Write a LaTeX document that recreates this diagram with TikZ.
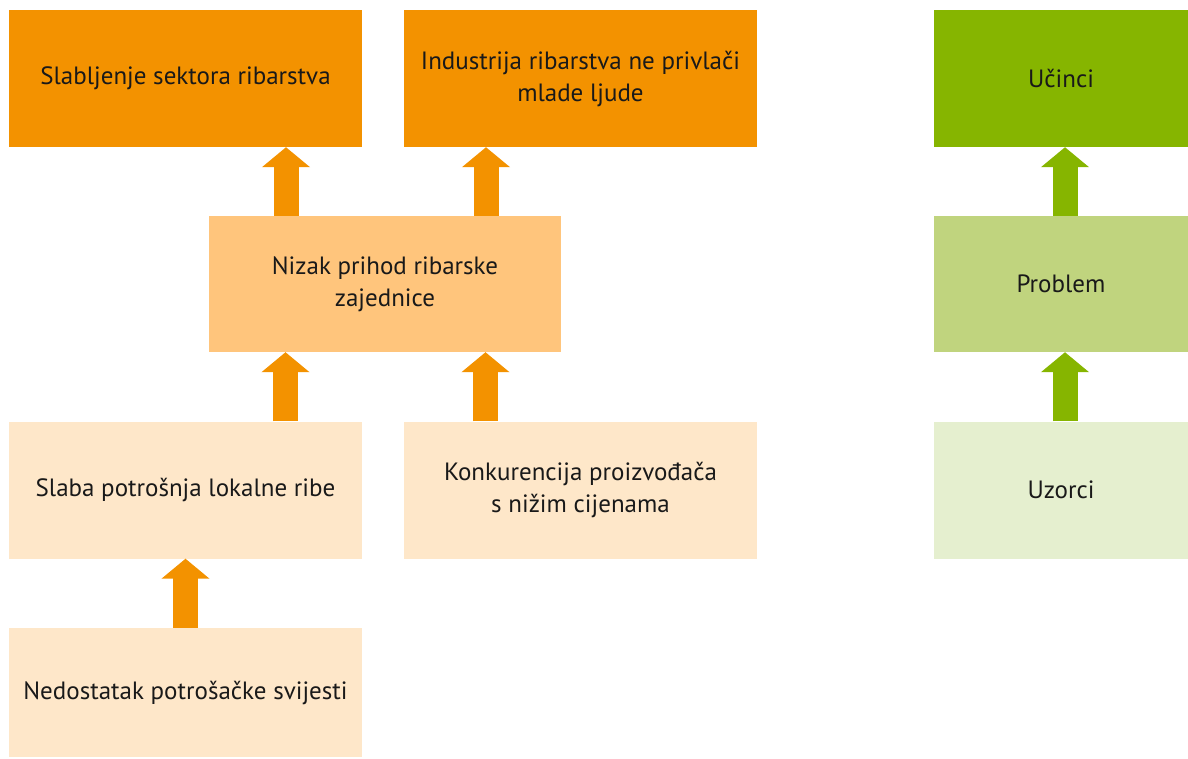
\documentclass[tikz,border=0pt]{standalone}
\usepackage{fontspec}
\setmainfont{PT Sans}
\usepackage{tikz}
\usetikzlibrary{arrows.meta}

\definecolor{dorange}{HTML}{F39200}
\definecolor{lorange}{HTML}{FFC57C}
\definecolor{corange}{HTML}{FEE7C9}
\definecolor{dgreen}{HTML}{86B500}
\definecolor{mgreen}{HTML}{C0D47E}
\definecolor{lgreen}{HTML}{E5EFCF}

\tikzset{
  box/.style={minimum width=353pt, minimum height=137pt, inner sep=0pt,
    align=center, text=black!90, font=\fontsize{25}{32}\selectfont},
  legbox/.style={box, minimum width=254pt},
  uparrow/.style={line width=25pt, -{Triangle[width=47pt, length=20pt]}},
}

\begin{document}
\begin{tikzpicture}[x=1pt, y=-1pt]
  \useasboundingbox (0,0) rectangle (1188,758);
  % effects (top row)
  \node[box, fill=dorange] (slab) at (185.5,78.5) {Slabljenje sektora ribarstva};
  \node[box, fill=dorange] (indu) at (580.5,78.5) {Industrija ribarstva ne privlači\\mlade ljude};
  % problem
  \node[box, fill=lorange, minimum width=352pt, minimum height=136pt] (nizak) at (385,284) {Nizak prihod ribarske\\zajednice};
  % causes
  \node[box, fill=corange] (potr) at (185.5,490) {Slaba potrošnja lokalne ribe};
  \node[box, fill=corange] (konk) at (580.5,490) {Konkurencija proizvođača\\s nižim cijenama};
  \node[box, fill=corange, minimum height=129pt] (svij) at (185.5,692.5) {Nedostatak potrošačke svijesti};
  % legend
  \node[legbox, fill=dgreen] (ucin) at (1061,78.5) {Učinci};
  \node[legbox, fill=mgreen, minimum height=136pt] (prob) at (1061,284) {Problem};
  \node[legbox, fill=lgreen] (uzor) at (1061,490) {Uzorci};

  \draw[uparrow, dorange] ([xshift=-99pt]nizak.north) -- ([xshift=-99pt]nizak.north |- slab.south);
  \draw[uparrow, dorange] ([xshift=101pt]nizak.north) -- ([xshift=101pt]nizak.north |- indu.south);
  \draw[uparrow, dorange] ([xshift=100pt]potr.north) -- ([xshift=100pt]potr.north |- nizak.south);
  \draw[uparrow, dorange] ([xshift=-95pt]konk.north) -- ([xshift=-95pt]konk.north |- nizak.south);
  \draw[uparrow, dorange] (svij.north) -- (potr.south);
  \draw[uparrow, dgreen] ([xshift=4pt]prob.north) -- ([xshift=4pt]ucin.south);
  \draw[uparrow, dgreen] ([xshift=4pt]uzor.north) -- ([xshift=4pt]prob.south);
\end{tikzpicture}
\end{document}
